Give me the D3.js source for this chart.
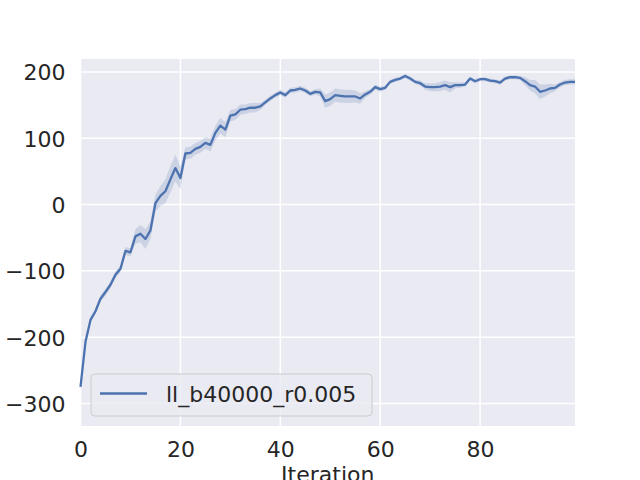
<!DOCTYPE html>
<html>
<head>
<meta charset="utf-8">
<script src="https://d3js.org/d3.v7.min.js" charset="utf-8"></script>
<style>
  body { margin: 0; background: #fff; }
  svg text { font-family: "DejaVu Sans", sans-serif; fill: #262626; }
</style>
</head>
<body>
<div id="chart_container"></div>
<script>
    // mean reward per iteration
    var meanReward = [
        -275, -207, -174, -161, -142, -132, -121, -106, -97, -70,
        -72, -48, -44, -52, -39, 2, 13, 20, 38, 55,
        40, 77, 78, 84, 87, 93, 90, 108, 119, 113,
        134, 136, 143, 144, 146, 146, 148, 154, 160, 165,
        169, 165, 172, 173, 175, 172, 167, 170, 169, 156,
        159, 165, 164, 163, 163, 163, 160, 166, 170, 177,
        174, 176, 185, 188, 190, 194, 190, 185, 183, 178,
        177, 177, 178, 180, 177, 180, 180, 181, 190, 186,
        189, 189, 187, 186, 184, 190, 192, 192, 191, 186,
        180, 178, 170, 172, 175, 176, 181, 184, 185, 185
    ];
    // half width of the confidence band
    var bandHalf = [
        4, 4, 4, 4, 5, 5, 5, 5, 5, 6,
        6, 11, 13, 15, 13, 13, 15, 18, 20, 20,
        17, 9, 9, 9, 9, 9, 10, 11, 12, 11,
        9, 8, 8, 7, 7, 7, 5, 4, 4, 4,
        4, 4, 4, 4, 4, 4, 4, 4, 6, 10,
        10, 10, 10, 10, 10, 9, 8, 5, 4, 4,
        4, 3, 3, 3, 3, 3, 3, 3, 4, 5,
        6, 6, 7, 7, 8, 5, 4, 3, 3, 3,
        3, 3, 3, 3, 3, 3, 3, 3, 3, 6,
        8, 10, 11, 9, 7, 5, 4, 4, 4, 4
    ];
    var iterations = d3.range(meanReward.length);
    var xTicks = [0, 20, 40, 60, 80];
    var yTicks = [-300, -200, -100, 0, 100, 200];
    var seriesName = 'll_b40000_r0.005';

    var width = 640,
        height = 480;
    var margin = { top: 59, right: 65, bottom: 54, left: 80.5 };
    var plotW = width - margin.left - margin.right,
        plotH = height - margin.top - margin.bottom;
    var fontSize = 22;

    var svg = d3.select('#chart_container').append('svg')
        .attr('width', width)
        .attr('height', height);

    var g = svg.append('g')
        .attr('transform', 'translate(' + margin.left + ',' + margin.top + ')');

    var x = d3.scaleLinear().domain([0, 99]).range([0, plotW]);
    var y = d3.scaleLinear().domain([-334, 219.5]).range([plotH, 0]);

    g.append('rect')
        .attr('width', plotW)
        .attr('height', plotH)
        .attr('fill', '#eaeaf2');

    // grid
    g.selectAll('.xgrid').data(xTicks).enter().append('line')
        .attr('x1', d => x(d)).attr('x2', d => x(d))
        .attr('y1', 0).attr('y2', plotH)
        .attr('stroke', '#fff').attr('stroke-width', 1.5);
    g.selectAll('.ygrid').data(yTicks).enter().append('line')
        .attr('y1', d => y(d)).attr('y2', d => y(d))
        .attr('x1', 0).attr('x2', plotW)
        .attr('stroke', '#fff').attr('stroke-width', 1.5);

    // axes (tick labels only)
    var xAxis = g.append('g')
        .attr('transform', 'translate(0,' + plotH + ')')
        .call(d3.axisBottom(x).tickValues(xTicks).tickSize(0).tickPadding(15).tickFormat(d3.format('d')));
    var yAxis = g.append('g')
        .call(d3.axisLeft(y).tickValues(yTicks).tickSize(0).tickPadding(15)
            .tickFormat(d => d < 0 ? '\u2212' + Math.abs(d) : d));
    [xAxis, yAxis].forEach(a => {
        a.select('.domain').remove();
        a.selectAll('text').attr('font-size', fontSize).attr('fill', '#262626')
            .attr('font-family', '"DejaVu Sans", sans-serif');
    });
    yAxis.selectAll('text').attr('dy', '0.36em');

    g.append('text')
        .attr('x', plotW / 2)
        .attr('y', plotH + 56)
        .attr('text-anchor', 'middle')
        .attr('font-size', fontSize)
        .text('Iteration');

    // band + line
    var plot = g.append('g');
    var area = d3.area()
        .x((d, i) => x(iterations[i]))
        .y0((d, i) => y(meanReward[i] - bandHalf[i]))
        .y1((d, i) => y(meanReward[i] + bandHalf[i]));
    plot.append('path')
        .datum(meanReward)
        .attr('d', area)
        .attr('fill', '#4c72b0')
        .attr('fill-opacity', 0.2);

    var line = d3.line()
        .x((d, i) => x(iterations[i]))
        .y(d => y(d));
    plot.append('path')
        .datum(meanReward)
        .attr('d', line)
        .attr('fill', 'none')
        .attr('stroke', '#4c72b0')
        .attr('stroke-width', 2.3)
        .attr('stroke-linejoin', 'round');

    // legend
    var legend = svg.append('g').attr('transform', 'translate(91,374)');
    legend.append('rect')
        .attr('width', 281).attr('height', 42)
        .attr('rx', 4)
        .attr('fill', '#eaeaf2').attr('fill-opacity', 0.8)
        .attr('stroke', '#cccccc').attr('stroke-width', 1);
    legend.append('line')
        .attr('x1', 9).attr('x2', 56)
        .attr('y1', 19.5).attr('y2', 19.5)
        .attr('stroke', '#4c72b0').attr('stroke-width', 2.3);
    legend.append('text')
        .attr('x', 75).attr('y', 28)
        .attr('font-size', fontSize)
        .text(seriesName);
</script>
</body>
</html>
